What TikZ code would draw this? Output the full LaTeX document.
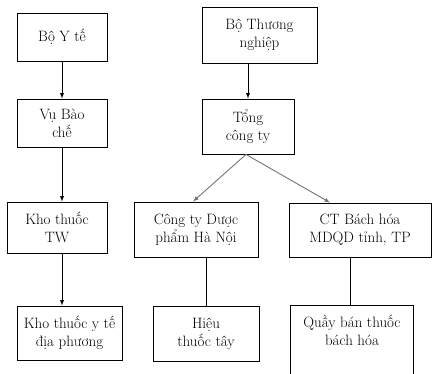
\documentclass[tikz,border=0pt]{standalone}
\usepackage{tikz}
\usetikzlibrary{positioning}
\usetikzlibrary{calc}
\tikzset{every picture/.style={line width=0.9pt}}

\begin{document}
\begin{tikzpicture}[x=1pt, y=-1pt, box/.style={draw, inner sep=0pt, align=center, font=\fontsize{15}{18}\selectfont}]
\useasboundingbox (0,0) rectangle (432,373);
% left column
\node (boyte) at (62,37) [box, minimum width=90pt, minimum height=48pt] {Bộ Y tế};
\node (vubaoche) at (62,123) [box, minimum width=90pt, minimum height=48pt] {Vụ Bào\\chế};
\node (khotw) at (57,227.5) [box, minimum width=100pt, minimum height=51pt] {Kho thuốc\\TW};
\node (khodp) at (69.5,333) [box, minimum width=105pt, minimum height=54pt] {Kho thuốc y tế\\địa phương};

% right side
\node (bothuong) at (259.5,35) [box, minimum width=115pt, minimum height=56pt] {Bộ Thương\\nghiệp};
\node (tongcty) at (248,126.5) [box, minimum width=92pt, minimum height=55pt] {Tổng\\công ty};
\node (congty) at (196,229.5) [box, minimum width=124pt, minimum height=55pt] {Công ty Dược\\phẩm Hà Nội};
\node (hieu) at (206,333.5) [box, minimum width=106pt, minimum height=55pt] {Hiệu\\thuốc tây};
\node (ctbh) at (360,230) [box, minimum width=142pt, minimum height=54pt] {CT Bách hóa\\MDQD tỉnh, TP};
\node (quay) at (352,330) [box, draw=none, minimum width=122pt, minimum height=48pt] {Quầy bán thuốc\\bách hóa};
\draw ([yshift=-30pt]quay.south west) -- (quay.north west) -- (quay.north east) -- ([yshift=-30pt]quay.south east);

\draw [-latex] (boyte) -- (vubaoche);
\draw [-latex] (vubaoche.south) -- (vubaoche.south |- khotw.north);
\draw [-latex] (vubaoche.south |- khotw.south) -- (vubaoche.south |- khodp.north);
\draw [-latex] (tongcty |- bothuong.south) -- (tongcty.north);
\draw [-latex, black!55] ([xshift=-2pt]tongcty.south) -- ([xshift=-3pt]congty.north);
\draw [-latex, black!55] ([xshift=-2pt]tongcty.south) -- ([xshift=-30pt]ctbh.north);
\draw [-] (hieu |- congty.south) -- (hieu.north);
\draw [-] ([xshift=-2pt]quay |- ctbh.south) -- ([xshift=-2pt]quay.north);
\end{tikzpicture}
\end{document}
